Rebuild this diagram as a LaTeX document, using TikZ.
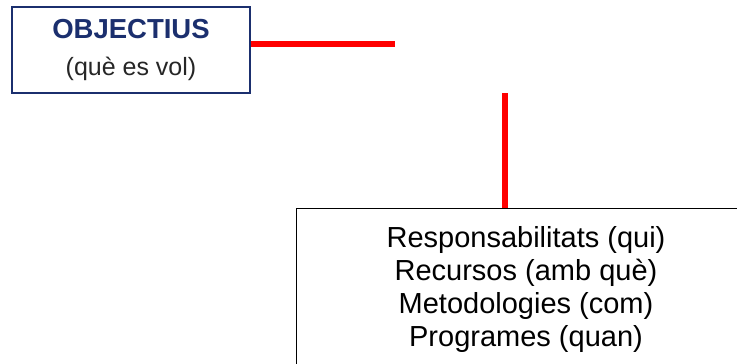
\documentclass[tikz,border=0pt]{standalone}
\usepackage{fontspec}
\setmainfont{Liberation Sans}
\definecolor{navy}{HTML}{1B2F6E}
\definecolor{redline}{HTML}{FF0000}
\tikzset{
  objbox/.style={draw=navy, line width=2pt, fill=white, minimum width=238pt, minimum height=86pt, align=center, inner sep=0pt, font=\fontsize{25}{37}\selectfont, text=black!85},
  mainbox/.style={draw=black, line width=1pt, fill=white, minimum width=460pt, anchor=north, align=center, inner xsep=0pt, inner ysep=18pt, text depth=60pt, font=\fontsize{29}{33}\selectfont, text=black},
  redconn/.style={draw=redline, line width=6pt}
}
\begin{document}
\begin{tikzpicture}[x=1pt,y=-1pt]
\useasboundingbox[fill=white] (0,0) rectangle (737,364);
\node[objbox] (obj) at (131,50) {{\bfseries\fontsize{27.5}{37}\selectfont\color{navy}OBJECTIUS}\\(què es vol)};
\coordinate (hend) at (395,43.5);
\coordinate (vtop) at (505,93);
\node[mainbox] (res) at (526,208) {Responsabilitats (qui)\\Recursos (amb què)\\Metodologies (com)\\Programes (quan)};
\draw[redconn] (obj.east |- hend) -- (hend);
\draw[redconn] (vtop) -- (vtop |- res.north);
\end{tikzpicture}
\end{document}
